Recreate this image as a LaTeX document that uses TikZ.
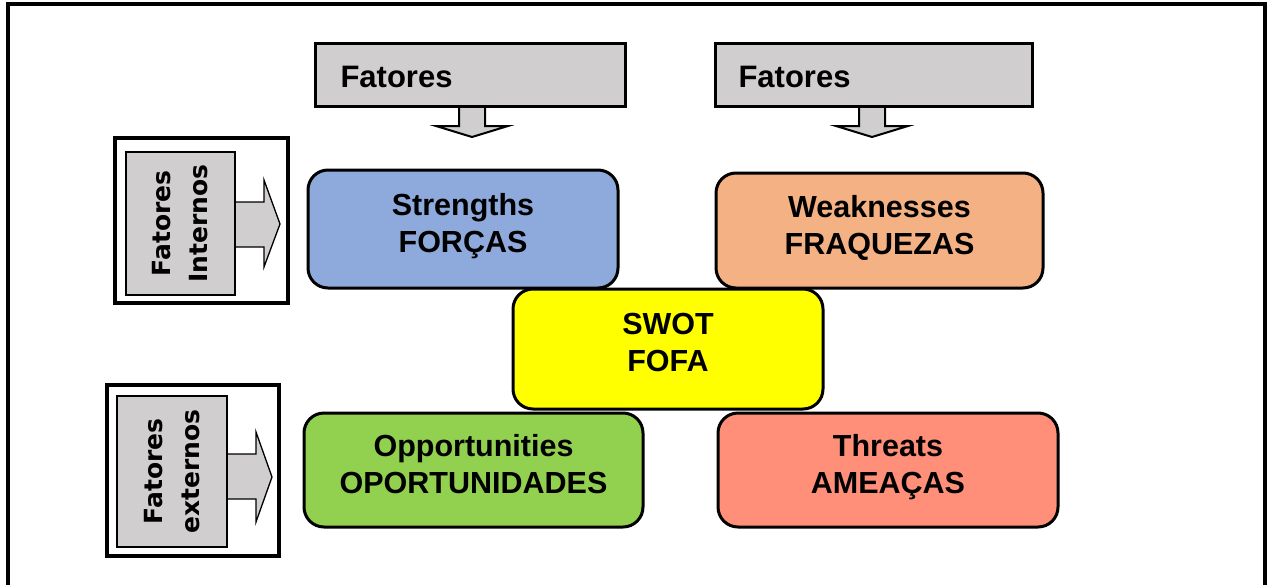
\documentclass[tikz,border=0pt]{standalone}
\usepackage{fontspec}
\setmainfont{Liberation Sans}
\newfontfamily\dejavu{DejaVu Sans}
\definecolor{sblue}{HTML}{8EA9DB}
\definecolor{sorange}{HTML}{F4B183}
\definecolor{syellow}{HTML}{FFFF00}
\definecolor{sgreen}{HTML}{92D050}
\definecolor{sred}{HTML}{FF8F78}
\definecolor{sgray}{HTML}{D0CECE}
\begin{document}
\begin{tikzpicture}[x=1pt,y=-1pt,
  swotbox/.style={draw, line width=3pt, rounded corners=20pt, inner sep=0pt},
  swottext/.style={anchor=base, align=center, font=\bfseries\fontsize{30.5}{36.5}\selectfont},
  topbox/.style={draw, line width=3pt, fill=sgray, inner sep=0pt},
  toptext/.style={anchor=base west, font=\bfseries\fontsize{31}{36}\selectfont},
  blockarrow/.style={draw, fill=sgray, line width=2pt, line join=miter},
  sidearrow/.style={draw, fill=sgray, line width=1.3pt, line join=miter},
  sideouter/.style={draw, line width=4pt, fill=white, inner sep=0pt},
  sideinner/.style={draw, line width=1.5pt, fill=sgray, inner sep=0pt},
  sidetext/.style={rotate=90, align=center, font=\dejavu\bfseries\fontsize{25}{37}\selectfont}
]
\useasboundingbox (0,0) rectangle (1267,584);
\fill[white] (0,0) rectangle (1267,584);
% outer frame
\draw[line width=4pt] (7.5,590) -- (7.5,4) -- (1265,4) -- (1265,590);

% top factor boxes with down arrows
\draw[blockarrow] (459,100) -- (459,126) -- (436,126) -- (472,137) -- (508,126) -- (485,126) -- (485,100) -- cycle;
\draw[blockarrow] (859,100) -- (859,126) -- (836,126) -- (872,137) -- (908,126) -- (885,126) -- (885,100) -- cycle;
\node[topbox, minimum width=310pt, minimum height=63pt] (t1) at (470,74.5) {};
\node[topbox, minimum width=317pt, minimum height=63pt] (t2) at (873.5,74.5) {};
\node[toptext] (t1txt) at (337,87) {Fatores};
\node[toptext] (t2txt) at (735,87) {Fatores};

% left side boxes
\node[sideouter, minimum width=173pt, minimum height=165pt] (l1) at (201.5,220.5) {};
\draw[sidearrow] (233,202) -- (264,202) -- (264,180) -- (280,224) -- (264,267) -- (264,247) -- (233,247) -- cycle;
\node[sideinner, minimum width=109pt, minimum height=143pt] (l1in) at (180.5,223.5) {};
\node[sidetext] (l1txt) at (l1in.center) {Fatores\\Internos};

\node[sideouter, minimum width=172pt, minimum height=171pt] (l2) at (193,470.5) {};
\draw[sidearrow] (225,454) -- (256,454) -- (256,432) -- (272,477) -- (256,522) -- (256,499) -- (225,499) -- cycle;
\node[sideinner, minimum width=110pt, minimum height=151pt] (l2in) at (172,471.5) {};
\node[sidetext] (l2txt) at (l2in.center) {Fatores\\externos};

% SWOT boxes
\node[swotbox, fill=sblue, minimum width=310pt, minimum height=118pt] (S) at (463,229) {};
\node[swotbox, fill=sorange, minimum width=327pt, minimum height=115pt] (W) at (879.5,230.5) {};
\node[swotbox, fill=sgreen, minimum width=339pt, minimum height=114pt] (O) at (473.5,470) {};
\node[swotbox, fill=sred, minimum width=340pt, minimum height=114pt] (T) at (888,470) {};
\node[swotbox, fill=syellow, minimum width=310pt, minimum height=120pt] (C) at (668,349) {};

\node[swottext] (Stxt) at ([yshift=-23pt]S.center) {Strengths\\FORÇAS};
\node[swottext] (Wtxt) at ([yshift=-23.5pt]W.center) {Weaknesses\\FRAQUEZAS};
\node[swottext] (Otxt) at ([yshift=-23pt]O.center) {Opportunities\\OPORTUNIDADES};
\node[swottext] (Ttxt) at ([yshift=-23pt]T.center) {Threats\\AMEAÇAS};
\node[swottext] (Ctxt) at ([yshift=-22pt]C.center) {SWOT\\FOFA};
\end{tikzpicture}
\end{document}
